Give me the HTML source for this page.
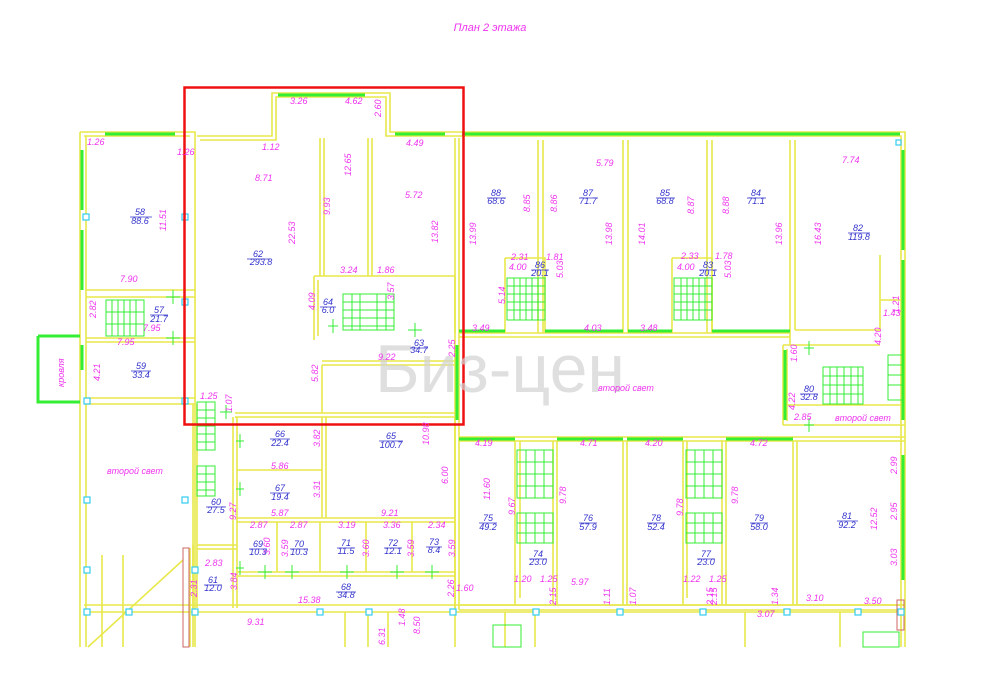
<!DOCTYPE html>
<html><head><meta charset="utf-8"><style>
html,body{margin:0;padding:0;background:#fff;width:1000px;height:697px;overflow:hidden}
svg{display:block}
.y{stroke:#e8e84a;stroke-width:1.6;fill:none}
.g{stroke:#33ee33;stroke-width:3;fill:none}
.gt{stroke:#33ee33;stroke-width:1;fill:none}
.c{stroke:#33ccee;stroke-width:1.2;fill:#fff}
text{font-family:"Liberation Sans",sans-serif;font-style:italic}
.m{fill:#ee33ee;font-size:9px}
.b{fill:#3333cc;font-size:9px;text-anchor:middle}
</style></head><body>
<svg width="1000" height="697" viewBox="0 0 1000 697" xmlns="http://www.w3.org/2000/svg">
<text x="490" y="31" class="m" font-size="11" text-anchor="middle" style="font-size:11px">План 2 этажа</text>

<g class="y">
<path d="M80,132 H195 V647"/>
<path d="M84,136 H190"/>
<path d="M80,132 V647 M86,136 V647"/>
<path d="M197,136 H272 V93 H390 V132 H905 V647"/>
<path d="M200,140 H276 V97 H386 V136 H901 V647"/>
<path d="M86,290 H195 M86,297 H195 M86,338 H195 M86,342 H195 M86,398 H195 M86,404 H195"/>
<path d="M320,138 V276 M324,138 V276 M368,138 V276 M372,138 V276"/>
<path d="M314,276 H455 V333 M314,276 V340 M318,280 V336"/>
<path d="M455,138 V425 M459,138 V437"/>
<path d="M322,361 H455 M322,365 H455"/>
<path d="M322,365 V413 M235,413 H455 M235,417 H455"/>
<path d="M538,140 V333 M543,140 V333 M623,140 V333 M628,140 V333 M707,140 V333 M712,140 V333 M790,140 V345 M795,140 V330"/>
<path d="M459,333 H790 M459,337 H790"/>
<path d="M505,258 H545 V333 M505,258 V333 M672,258 H712 V333 M672,258 V333"/>
<path d="M795,330 H880 V255 M880,300 H905"/>
<path d="M783,345 H880 M783,405 H905 M783,425 H905 M783,345 V425 M787,349 V421"/>
<path d="M459,437 H905 M459,441 H905"/>
<path d="M515,441 V605 M520,441 V598 M553,441 V605 M557,441 V605 M623,441 V605 M627,441 V605 M683,441 V605 M687,441 V598 M722,441 V605 M726,441 V605 M793,441 V605 M797,441 V605"/>
<path d="M459,605 H905 M459,610 H905"/>
<path d="M459,437 V610 M455,425 V610"/>
<path d="M237,417 V608 M233,417 V608 M197,404 V608 M193,404 V608"/>
<path d="M237,470 H322 M237,518 H455 M237,522 H455 M322,417 V518 M326,417 V518"/>
<path d="M277,522 V572 M320,522 V572 M366,522 V572 M412,522 V572 M455,417 V608"/>
<path d="M237,572 H455 M237,576 H455 M197,545 H237 M197,549 H237"/>
<path d="M84,605 H905 M84,612 H905"/>
<path d="M183,560 L88,647 M193,545 V647 M190,548 V647"/>
<path d="M345,612 V647 M368,612 V647 M388,612 V647 M455,612 V647 M505,612 V647 M535,612 V647 M745,612 V647 M840,612 V647"/>
<path d="M102,555 V647 M123,555 V647"/>
</g>
<rect x="183" y="548" width="6" height="99" fill="none" stroke="#cc6666" stroke-width="1"/>
<rect x="897" y="600" width="7" height="30" fill="none" stroke="#cc6666" stroke-width="1"/>

<g class="g">
<path d="M105,134 H175"/>
<path d="M82,150 V210 M82,230 V290 M82,345 V370"/>
<path d="M38,336 H80 M38,336 V402 H80"/>
<path d="M278,95 H365"/>
<path d="M395,134 H445 M462,134 H900"/>
<path d="M903,150 V250 M903,260 V420 M903,455 V580"/>
<path d="M459,331 H505 M545,331 H623 M628,331 H672 M712,331 H790"/>
<path d="M459,439 H515 M557,439 H623 M627,439 H683 M726,439 H793"/>
<path d="M785,350 V420 M457,345 V420"/>
</g>
<g class="gt">
<rect x="106" y="300" width="38" height="36"/>
<path d="M106,312 H144 M106,324 H144 M112,300 V336 M118,300 V336 M124,300 V336 M130,300 V336 M136,300 V336"/>
<rect x="343" y="294" width="51" height="36"/>
<path d="M343,302 H394 M343,310 H394 M343,318 H394 M343,326 H394 M360,294 V330 M377,294 V330 M352,294 V330 M386,294 V330"/>
<rect x="507" y="278" width="38" height="42"/>
<path d="M507,286 H545 M507,294 H545 M507,302 H545 M507,310 H545 M520,278 V320 M532,278 V320 M514,278 V320 M526,278 V320 M538,278 V320"/>
<rect x="674" y="278" width="38" height="42"/>
<path d="M674,286 H712 M674,294 H712 M674,302 H712 M674,310 H712 M687,278 V320 M699,278 V320 M681,278 V320 M693,278 V320 M705,278 V320"/>
<rect x="823" y="367" width="40" height="37"/>
<path d="M823,376 H863 M823,385 H863 M823,394 H863 M830,367 V404 M837,367 V404 M844,367 V404 M851,367 V404 M858,367 V404"/>
<rect x="517" y="450" width="36" height="48"/><path d="M517,462 H553 M517,474 H553 M517,486 H553 M526,450 V498 M535,450 V498 M544,450 V498"/>
<rect x="517" y="513" width="36" height="30"/><path d="M517,523 H553 M517,533 H553 M526,513 V543 M535,513 V543 M544,513 V543"/>
<rect x="686" y="450" width="36" height="48"/><path d="M686,462 H722 M686,474 H722 M686,486 H722 M695,450 V498 M704,450 V498 M713,450 V498"/>
<rect x="686" y="513" width="36" height="30"/><path d="M686,523 H722 M686,533 H722 M695,513 V543 M704,513 V543 M713,513 V543"/>
<rect x="197" y="402" width="18" height="48"/><path d="M197,410 H215 M197,418 H215 M197,426 H215 M197,434 H215 M197,442 H215 M206,402 V450"/>
<rect x="197" y="466" width="18" height="30"/><path d="M197,474 H215 M197,482 H215 M197,490 H215 M206,466 V496"/>
<rect x="888" y="355" width="14" height="45"/><path d="M888,365 H902 M888,375 H902 M888,385 H902"/>
<path d="M166,297 H180 M173,290 V304 M166,338 H180 M173,331 V345 M236,441 H244 M240,434 V448 M236,489 H244 M240,482 V496 M236,568 H244 M240,561 V575 M258,572 H272 M265,565 V579 M285,572 H299 M292,565 V579 M340,572 H354 M347,565 V579 M390,572 H404 M397,565 V579 M425,572 H439 M432,565 V579 M408,330 H422 M415,323 V337 M804,348 H814 M809,341 V355 M804,425 H814 M809,418 V432 M220,412 H232 M226,405 V419 M328,326 H338 M333,319 V333"/>
<rect x="863" y="632" width="36" height="15"/><rect x="493" y="625" width="28" height="22"/>
</g>
<g class="c">
<rect x="83" y="214" width="6" height="6"/><rect x="182" y="214" width="6" height="6"/><rect x="182" y="299" width="6" height="6"/><rect x="84" y="398" width="6" height="6"/><rect x="182" y="398" width="6" height="6"/>
<rect x="84" y="497" width="6" height="6"/><rect x="182" y="497" width="6" height="6"/><rect x="84" y="567" width="6" height="6"/><rect x="84" y="609" width="6" height="6"/><rect x="126" y="609" width="6" height="6"/><rect x="192" y="567" width="6" height="6"/><rect x="192" y="609" width="6" height="6"/>
<rect x="317" y="609" width="6" height="6"/><rect x="366" y="609" width="6" height="6"/><rect x="450" y="609" width="6" height="6"/><rect x="533" y="609" width="6" height="6"/><rect x="617" y="609" width="6" height="6"/><rect x="700" y="609" width="6" height="6"/><rect x="784" y="609" width="6" height="6"/><rect x="855" y="609" width="6" height="6"/><rect x="898" y="609" width="6" height="6"/><rect x="896" y="140" width="5" height="5"/>
</g>

<rect x="184.5" y="87.5" width="279" height="337" fill="none" stroke="#ee1111" stroke-width="2.5"/>

<text x="500" y="392" text-anchor="middle" style="font-style:normal;font-size:68px;fill:#d2d2d2;opacity:.7">Биз-цен</text>

<g class="m">
<text x="87" y="145">1.26</text><text x="177" y="155">1.26</text><text x="120" y="282">7.90</text><text x="117" y="345">7.95</text><text x="143" y="331">7.95</text>
<text x="290" y="104">3.26</text><text x="345" y="104">4.62</text><text x="262" y="150">1.12</text><text x="255" y="181">8.71</text><text x="406" y="146">4.49</text><text x="405" y="198">5.72</text>
<text x="340" y="273">3.24</text><text x="377" y="273">1.86</text><text x="200" y="399">1.25</text><text x="378" y="360">9.22</text>
<text x="596" y="166">5.79</text><text x="842" y="163">7.74</text>
<text x="511" y="260">2.31</text><text x="546" y="260">1.81</text><text x="509" y="270">4.00</text><text x="681" y="259">2.33</text><text x="715" y="259">1.78</text><text x="677" y="270">4.00</text>
<text x="472" y="331">3.49</text><text x="584" y="331">4.03</text><text x="640" y="331">3.48</text><text x="794" y="420">2.85</text><text x="883" y="316">1.43</text>
<text x="598" y="391">второй свет</text><text x="835" y="421">второй свет</text><text x="107" y="474">второй свет</text>
<text x="475" y="446">4.19</text><text x="580" y="446">4.71</text><text x="645" y="446">4.20</text><text x="750" y="446">4.72</text>
<text x="271" y="469">5.86</text><text x="271" y="516">5.87</text><text x="381" y="516">9.21</text>
<text x="250" y="528">2.87</text><text x="290" y="528">2.87</text><text x="338" y="528">3.19</text><text x="383" y="528">3.36</text><text x="428" y="528">2.34</text>
<text x="205" y="566">2.83</text><text x="298" y="603">15.38</text><text x="456" y="591">1.60</text>
<text x="514" y="582">1.20</text><text x="540" y="582">1.25</text><text x="571" y="585">5.97</text><text x="683" y="582">1.22</text><text x="709" y="582">1.25</text>
<text x="806" y="601">3.10</text><text x="864" y="604">3.50</text><text x="757" y="617">3.07</text><text x="247" y="625">9.31</text>
</g>
<g class="m">
<text transform="translate(166,231) rotate(-90)">11.51</text>
<text transform="translate(96,318) rotate(-90)">2.82</text>
<text transform="translate(100,381) rotate(-90)">4.21</text>
<text transform="translate(64,387) rotate(-90)">кровля</text>
<text transform="translate(381,117) rotate(-90)">2.60</text>
<text transform="translate(351,176) rotate(-90)">12.65</text>
<text transform="translate(330,215) rotate(-90)">9.93</text>
<text transform="translate(295,244) rotate(-90)">22.53</text>
<text transform="translate(438,243) rotate(-90)">13.82</text>
<text transform="translate(394,300) rotate(-90)">3.57</text>
<text transform="translate(315,310) rotate(-90)">4.09</text>
<text transform="translate(318,382) rotate(-90)">5.82</text>
<text transform="translate(476,245) rotate(-90)">13.99</text>
<text transform="translate(530,212) rotate(-90)">8.85</text>
<text transform="translate(557,212) rotate(-90)">8.86</text>
<text transform="translate(612,245) rotate(-90)">13.98</text>
<text transform="translate(645,245) rotate(-90)">14.01</text>
<text transform="translate(694,214) rotate(-90)">8.87</text>
<text transform="translate(729,214) rotate(-90)">8.88</text>
<text transform="translate(782,245) rotate(-90)">13.96</text>
<text transform="translate(821,245) rotate(-90)">16.43</text>
<text transform="translate(563,278) rotate(-90)">5.03</text>
<text transform="translate(731,278) rotate(-90)">5.03</text>
<text transform="translate(505,304) rotate(-90)">5.14</text>
<text transform="translate(899,313) rotate(-90)">1.21</text>
<text transform="translate(881,345) rotate(-90)">4.20</text>
<text transform="translate(797,362) rotate(-90)">1.60</text>
<text transform="translate(795,410) rotate(-90)">4.22</text>
<text transform="translate(455,357) rotate(-90)">2.25</text>
<text transform="translate(232,412) rotate(-90)">1.07</text>
<text transform="translate(320,447) rotate(-90)">3.82</text>
<text transform="translate(320,498) rotate(-90)">3.31</text>
<text transform="translate(429,445) rotate(-90)">10.98</text>
<text transform="translate(448,484) rotate(-90)">6.00</text>
<text transform="translate(236,520) rotate(-90)">9.27</text>
<text transform="translate(270,555) rotate(-90)">3.60</text>
<text transform="translate(288,557) rotate(-90)">3.59</text>
<text transform="translate(369,557) rotate(-90)">3.60</text>
<text transform="translate(414,557) rotate(-90)">3.59</text>
<text transform="translate(455,557) rotate(-90)">3.59</text>
<text transform="translate(237,590) rotate(-90)">3.84</text>
<text transform="translate(197,597) rotate(-90)">2.31</text>
<text transform="translate(454,597) rotate(-90)">2.26</text>
<text transform="translate(490,500) rotate(-90)">11.60</text>
<text transform="translate(515,515) rotate(-90)">9.67</text>
<text transform="translate(566,504) rotate(-90)">9.78</text>
<text transform="translate(683,516) rotate(-90)">9.78</text>
<text transform="translate(738,504) rotate(-90)">9.78</text>
<text transform="translate(556,605) rotate(-90)">2.15</text>
<text transform="translate(717,605) rotate(-90)">2.15</text>
<text transform="translate(713,605) rotate(-90)">2.15</text>
<text transform="translate(610,605) rotate(-90)">1.11</text>
<text transform="translate(636,605) rotate(-90)">1.07</text>
<text transform="translate(778,605) rotate(-90)">1.34</text>
<text transform="translate(877,530) rotate(-90)">12.52</text>
<text transform="translate(897,474) rotate(-90)">2.99</text>
<text transform="translate(897,520) rotate(-90)">2.95</text>
<text transform="translate(897,566) rotate(-90)">3.03</text>
<text transform="translate(385,645) rotate(-90)">6.31</text>
<text transform="translate(405,626) rotate(-90)">1.48</text>
<text transform="translate(420,634) rotate(-90)">8.50</text>
</g>
<g class="b" stroke="none">
<text x="140" y="215">58</text><text x="140" y="224">88.6</text>
<text x="159" y="313">57</text><text x="159" y="322">21.7</text>
<text x="141" y="369">59</text><text x="141" y="378">33.4</text>
<text x="258" y="257">62</text><text x="261" y="265">293.8</text>
<text x="328" y="305">64</text><text x="328" y="313">6.0</text>
<text x="419" y="346">63</text><text x="419" y="353">34.7</text>
<text x="496" y="196">88</text><text x="496" y="204">68.6</text>
<text x="588" y="196">87</text><text x="588" y="204">71.7</text>
<text x="665" y="196">85</text><text x="665" y="204">68.8</text>
<text x="756" y="196">84</text><text x="756" y="204">71.1</text>
<text x="858" y="231">82</text><text x="859" y="240">119.8</text>
<text x="540" y="268">86</text><text x="540" y="276">20.1</text>
<text x="708" y="268">83</text><text x="708" y="276">20.1</text>
<text x="809" y="392">80</text><text x="809" y="400">32.8</text>
<text x="280" y="437">66</text><text x="280" y="446">22.4</text>
<text x="391" y="439">65</text><text x="391" y="448">100.7</text>
<text x="280" y="491">67</text><text x="280" y="500">19.4</text>
<text x="216" y="505">60</text><text x="216" y="513">27.5</text>
<text x="258" y="547">69</text><text x="258" y="555">10.3</text>
<text x="299" y="547">70</text><text x="299" y="555">10.3</text>
<text x="346" y="546">71</text><text x="346" y="554">11.5</text>
<text x="393" y="546">72</text><text x="393" y="554">12.1</text>
<text x="434" y="545">73</text><text x="434" y="553">8.4</text>
<text x="213" y="583">61</text><text x="213" y="591">12.0</text>
<text x="346" y="590">68</text><text x="346" y="598">34.8</text>
<text x="488" y="521">75</text><text x="488" y="530">49.2</text>
<text x="538" y="557">74</text><text x="538" y="565">23.0</text>
<text x="588" y="521">76</text><text x="588" y="530">57.9</text>
<text x="656" y="521">78</text><text x="656" y="530">52.4</text>
<text x="706" y="557">77</text><text x="706" y="565">23.0</text>
<text x="759" y="521">79</text><text x="759" y="530">58.0</text>
<text x="847" y="519">81</text><text x="847" y="528">92.2</text>
</g>
<g stroke="#3333cc" stroke-width="0.8">
<path d="M130,217 H152 M150,315 H168 M131,371 H151 M247,259 H270 M320,307 H336 M487,198 H506 M579,198 H598 M656,198 H675 M747,198 H766 M848,233 H870 M531,270 H549 M699,270 H717 M800,394 H818 M270,439 H290 M379,441 H403 M270,493 H290 M206,507 H226 M249,549 H267 M290,549 H308 M337,548 H355 M384,548 H402 M426,547 H442 M204,585 H222 M336,592 H356 M479,523 H497 M529,559 H547 M579,523 H597 M647,523 H665 M697,559 H715 M750,523 H768 M837,521 H858 M410,348 H428"/>
</g>
</svg>
</body></html>
